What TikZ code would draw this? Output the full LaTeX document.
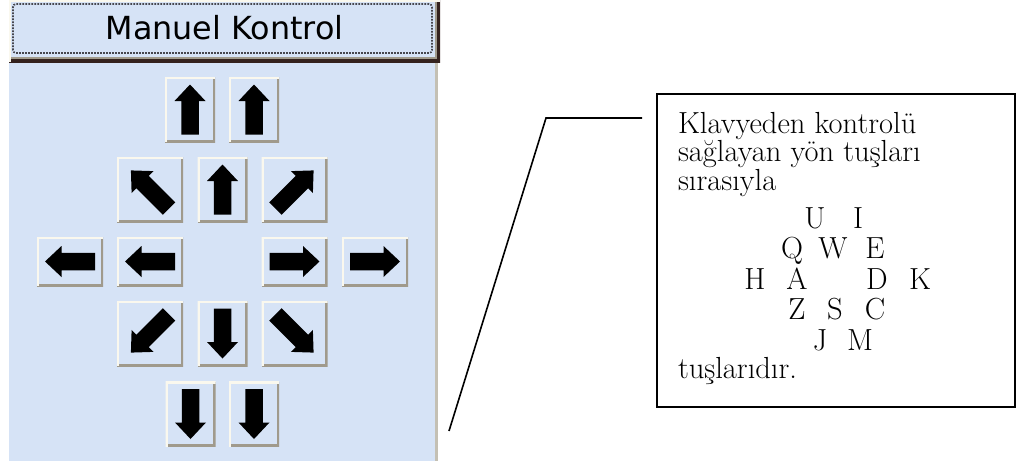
\documentclass[tikz,border=0pt]{standalone}
\usepackage{fontspec}
\newfontfamily\panelfont{DejaVu Sans}

\definecolor{panelblue}{RGB}{214,227,246}
\definecolor{bevellight}{RGB}{250,248,238}
\definecolor{bevelgray}{RGB}{160,154,140}
\definecolor{framedark}{RGB}{52,34,30}
\definecolor{framegray}{RGB}{196,192,180}
\definecolor{dotgray}{RGB}{70,70,78}

\begin{document}
\begin{tikzpicture}[x=1pt, y=-1pt,
  every node/.style={inner sep=0pt, outer sep=0pt},
  keybtn/.style 2 args={rectangle, fill=panelblue,
    minimum width=#1, minimum height=#2,
    path picture={
      \draw[bevelgray, line width=5pt] (path picture bounding box.south west)
        -| (path picture bounding box.north east);
      \draw[bevellight, line width=4pt] (path picture bounding box.south west)
        |- (path picture bounding box.north east);
    }},
  tallkey/.style={keybtn={50}{65}},
  widekey/.style={keybtn={66}{65}},
  flatkey/.style={keybtn={66}{49}},
  headbar/.style={rectangle, fill=panelblue, minimum width=431,
    minimum height=62, text height=23pt, text depth=7pt,
    font=\panelfont\fontsize{31.8}{36}\selectfont,
    path picture={
      \draw[framedark, line width=7pt] (path picture bounding box.south west)
        -| (path picture bounding box.north east);
      \draw[bevelgray, line width=2pt]
        ([shift={(0pt,4.5pt)}]path picture bounding box.south west)
        -| ([shift={(-4.5pt,0pt)}]path picture bounding box.north east);
      \draw[bevellight, line width=4pt] (path picture bounding box.south west)
        |- (path picture bounding box.north east);
      \draw[dotgray, dash pattern=on 1.7pt off 1.3pt, line width=1.7pt,
        rounded corners=3pt]
        ([shift={(4pt,9pt)}]path picture bounding box.south west) rectangle
        ([shift={(-8pt,-4pt)}]path picture bounding box.north east);
    }},
  pics/keyarrow/.style={code={
    \fill[black] (-#1,-8.75) -- (#1-16.5,-8.75) -- (#1-16.5,-15.5) -- (#1,0)
      -- (#1-16.5,15.5) -- (#1-16.5,8.75) -- (-#1,8.75) -- cycle;
  }},
  notebox/.style={draw, line width=1.6pt, minimum width=358, minimum height=313},
  notetext/.style={anchor=base west, font=\fontsize{30.5}{33}\selectfont},
  keyletter/.style={anchor=base, font=\fontsize{30.5}{33}\selectfont},
  callout/.style={line width=1.6pt}
]
  \useasboundingbox (0,0) rectangle (1017,461);

  % control panel
  \fill[panelblue] (9,62) rectangle (437,461);
  \fill[framegray] (435,62) rectangle (438,461);
  \node[headbar] (head) at (224.5,31) {Manuel Kontrol};

  % direction keys
  \node[tallkey] (up1) at (190,109.5) {};
  \node[tallkey] (up2) at (254,109.5) {};
  \node[widekey] (nw) at (150,189.5) {};
  \node[tallkey] (up) at (222.5,189.5) {};
  \node[widekey] (ne) at (294.5,189.5) {};
  \node[flatkey] (left1) at (70,261.5) {};
  \node[flatkey] (left) at (150,261.5) {};
  \node[flatkey] (right) at (294.5,261.5) {};
  \node[flatkey] (right1) at (375,261.5) {};
  \node[widekey] (sw) at (150,333.5) {};
  \node[tallkey] (down) at (222.5,333.5) {};
  \node[widekey] (se) at (294.5,333.5) {};
  \node[tallkey] (down1) at (190.5,414) {};
  \node[tallkey] (down2) at (254,414) {};

  \pic[rotate=90] at (up1) {keyarrow=25};
  \pic[rotate=90] at (up2) {keyarrow=25};
  \pic[rotate=90] at (up) {keyarrow=25};
  \pic[rotate=135] at (nw) {keyarrow=27};
  \pic[rotate=45] at (ne) {keyarrow=27};
  \pic[rotate=180] at (left1) {keyarrow=25};
  \pic[rotate=180] at (left) {keyarrow=25};
  \pic at (right) {keyarrow=25};
  \pic at (right1) {keyarrow=25};
  \pic[rotate=225] at (sw) {keyarrow=27};
  \pic[rotate=-90] at (down) {keyarrow=25};
  \pic[rotate=-45] at (se) {keyarrow=27};
  \pic[rotate=-90] at (down1) {keyarrow=25};
  \pic[rotate=-90] at (down2) {keyarrow=25};

  % note
  \node[notebox] (note) at (836,250.5) {};
  \node[notetext] (line1) at (678,133) {Klavyeden kontrolü};
  \node[notetext] (line2) at (678,161) {sağlayan yön tuşları};
  \node[notetext] (line3) at (678,190) {sırasıyla};
  \foreach \k/\x/\y in {U/815/228, I/858/228,
      Q/792/258.5, W/833/258.5, E/875/258.5,
      H/755/289, A/797/289, D/877/289, K/920/289,
      Z/797/319.5, S/835/319.5, C/875/319.5,
      J/820/350, M/860/350}
    \node[keyletter] (key\k) at (\x,\y) {\k};
  \node[notetext] (line4) at (678,378) {tuşlarıdır.};

  \coordinate (tail) at (449,431);
  \coordinate (bend) at (546,118);
  \coordinate (lead) at (642,118);
  \draw[callout] (tail) -- (bend) -- (lead);
\end{tikzpicture}
\end{document}
